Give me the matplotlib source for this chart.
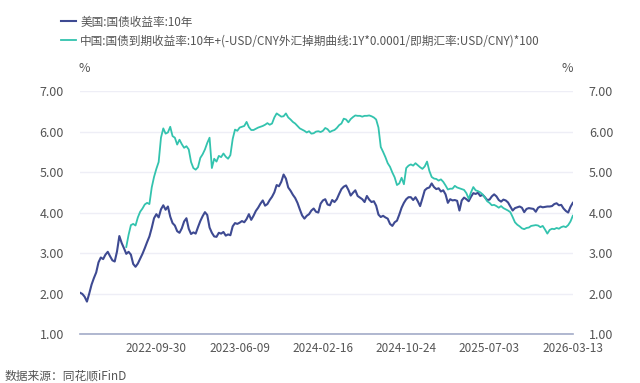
import matplotlib
matplotlib.use("Agg")
import matplotlib.pyplot as plt
import pandas as pd

plt.rcParams['font.family'] = ['Noto Sans CJK SC', 'DejaVu Sans']

# weekly readings (Fridays)
us_start = "2022-02-11"
us_10y = [
    2.02, 1.99, 1.92, 1.80, 2.00, 2.22, 2.38, 2.52, 2.77, 2.89,
    2.85, 2.96, 3.03, 2.92, 2.82, 2.79, 3.04, 3.42, 3.25, 3.12,
    2.98, 3.03, 2.96, 2.73, 2.66, 2.74, 2.86, 2.98, 3.12, 3.27,
    3.41, 3.62, 3.86, 3.96, 3.88, 4.08, 4.18, 4.07, 4.15, 3.90,
    3.74, 3.68, 3.54, 3.50, 3.61, 3.78, 3.86, 3.60, 3.47, 3.51,
    3.48, 3.64, 3.79, 3.91, 4.01, 3.94, 3.63, 3.50, 3.41, 3.40,
    3.50, 3.48, 3.52, 3.43, 3.46, 3.44, 3.66, 3.74, 3.72, 3.75,
    3.79, 3.76, 3.84, 3.96, 3.82, 3.92, 4.04, 4.12, 4.22, 4.30,
    4.17, 4.21, 4.31, 4.39, 4.50, 4.68, 4.65, 4.76, 4.94, 4.84,
    4.62, 4.54, 4.44, 4.36, 4.24, 4.08, 3.93, 3.85, 3.92, 3.96,
    4.05, 4.10, 4.02, 4.00, 4.22, 4.30, 4.33, 4.20, 4.18, 4.31,
    4.26, 4.33, 4.46, 4.58, 4.64, 4.67, 4.56, 4.42, 4.49, 4.55,
    4.41, 4.37, 4.33, 4.26, 4.41, 4.32, 4.26, 4.28, 4.17, 3.95,
    3.89, 3.92, 3.88, 3.85, 3.72, 3.67, 3.76, 3.80, 3.95, 4.12,
    4.24, 4.33, 4.38, 4.38, 4.31, 4.38, 4.28, 4.16, 4.35, 4.55,
    4.60, 4.62, 4.72, 4.63, 4.58, 4.60, 4.52, 4.55, 4.45, 4.24,
    4.33, 4.30, 4.31, 4.29, 4.05, 4.30, 4.37, 4.33, 4.28, 4.39,
    4.48, 4.46, 4.49, 4.41, 4.44, 4.38, 4.31, 4.32, 4.40, 4.45,
    4.40, 4.31, 4.27, 4.32, 4.30, 4.25, 4.15, 4.05, 4.11, 4.13,
    4.15, 4.12, 4.01, 4.09, 4.11, 4.10, 4.09, 4.02, 4.12, 4.15,
    4.13, 4.14, 4.15, 4.15, 4.16, 4.21, 4.23, 4.18, 4.19, 4.10,
    4.04, 4.00, 4.14, 4.24,
]

cn_start = "2022-07-01"
cn_10y_adj = [
    3.15, 3.45, 3.69, 3.72, 3.68, 3.88, 4.02, 4.10, 4.20, 4.24,
    4.21, 4.62, 4.88, 5.08, 5.25, 5.85, 6.08, 5.95, 5.98, 6.12,
    5.89, 5.85, 5.68, 5.80, 5.69, 5.60, 5.64, 5.56, 5.25, 5.10,
    5.06, 5.12, 5.35, 5.44, 5.56, 5.72, 5.85, 5.10, 5.33, 5.26,
    5.40, 5.37, 5.46, 5.38, 5.33, 5.42, 5.82, 6.05, 6.02, 6.10,
    6.12, 6.14, 6.24, 6.11, 6.04, 6.04, 6.07, 6.10, 6.12, 6.14,
    6.17, 6.21, 6.17, 6.20, 6.35, 6.45, 6.41, 6.37, 6.38, 6.45,
    6.35, 6.30, 6.24, 6.20, 6.14, 6.08, 6.05, 6.02, 5.98, 6.01,
    5.95, 5.96, 6.00, 6.01, 5.99, 6.02, 6.09, 6.06, 5.99, 6.02,
    6.04, 6.09, 6.16, 6.20, 6.32, 6.30, 6.23, 6.31, 6.36, 6.40,
    6.39, 6.39, 6.37, 6.39, 6.39, 6.40, 6.38, 6.35, 6.30, 6.10,
    5.62, 5.50, 5.37, 5.22, 5.13, 4.99, 4.87, 4.68, 4.72, 4.86,
    4.70, 5.10, 5.16, 5.19, 5.16, 5.22, 5.17, 5.12, 5.08, 5.14,
    5.26, 5.03, 4.88, 4.84, 4.83, 4.79, 4.82, 4.76, 4.67, 4.57,
    4.59, 4.59, 4.66, 4.62, 4.60, 4.58, 4.56, 4.48, 4.34, 4.50,
    4.63, 4.55, 4.53, 4.50, 4.45, 4.37, 4.28, 4.24, 4.18, 4.19,
    4.16, 4.12, 4.16, 4.11, 4.08, 4.05, 4.01, 3.89, 3.76, 3.70,
    3.66, 3.61, 3.59, 3.62, 3.63, 3.67, 3.68, 3.69, 3.68, 3.64,
    3.67, 3.58, 3.48, 3.57, 3.60, 3.59, 3.62, 3.60, 3.64, 3.66,
    3.64, 3.69, 3.78, 3.92,
]

tick_dates = ["2022-09-30", "2023-06-09", "2024-02-16",
              "2024-10-24", "2025-07-03", "2026-03-13"]
y_ticks = [1, 2, 3, 4, 5, 6, 7]

us_label = "美国:国债收益率:10年"
cn_label = "中国:国债到期收益率:10年+(-USD/CNY外汇掉期曲线:1Y*0.0001/即期汇率:USD/CNY)*100"

us_color = "#3E4A92"
cn_color = "#33C3AE"
txt_color = "#555555"

us_dates = pd.date_range(us_start, periods=len(us_10y), freq="7D")
cn_dates = pd.date_range(cn_start, periods=len(cn_10y_adj), freq="7D")

fig = plt.figure(figsize=(6.4, 3.83), dpi=100)
ax = fig.add_axes([0.125, 0.128, 0.770, 0.634])

l1, = ax.plot(us_dates, us_10y, color=us_color, lw=1.5, label=us_label)
l2, = ax.plot(cn_dates, cn_10y_adj, color=cn_color, lw=1.3, label=cn_label)

ax.set_xlim(us_dates[0], us_dates[-1])
ax.set_ylim(1, 7)
ax.set_yticks(y_ticks)
ax.set_yticklabels([f"{v:.2f}" for v in y_ticks])
ax.set_xticks(pd.to_datetime(tick_dates))
ax.set_xticklabels(tick_dates)
ax.grid(axis="y", color="#EEEEF6", lw=1)
ax.set_axisbelow(True)

for s in ["top", "left", "right"]:
    ax.spines[s].set_visible(False)
ax.spines["bottom"].set_color("#A3ABC8")
ax.spines["bottom"].set_linewidth(1.2)

ax.tick_params(axis="y", left=False, right=False, labelleft=True,
               labelright=True, labelsize=9, colors=txt_color, pad=8)
ax.tick_params(axis="x", length=0, labelsize=8.5, colors=txt_color, pad=6)

fig.text(84 / 640, 1 - 69 / 383, "%", fontsize=9, color=txt_color,
         ha="center", va="center")
fig.text(567 / 640, 1 - 69 / 383, "%", fontsize=9, color=txt_color,
         ha="center", va="center")

fig.legend(handles=[l1, l2], loc="upper left",
           bbox_to_anchor=(50 / 640, 1 - 5 / 383), frameon=False,
           fontsize=8.4, handlelength=1.3, handletextpad=0.4,
           labelspacing=0.5, labelcolor=txt_color)

fig.text(5 / 640, 1 - 376 / 383, "数据来源：同花顺iFinD", fontsize=8.5,
         color=txt_color, ha="left", va="center")

fig.savefig("out.png", dpi=100)
